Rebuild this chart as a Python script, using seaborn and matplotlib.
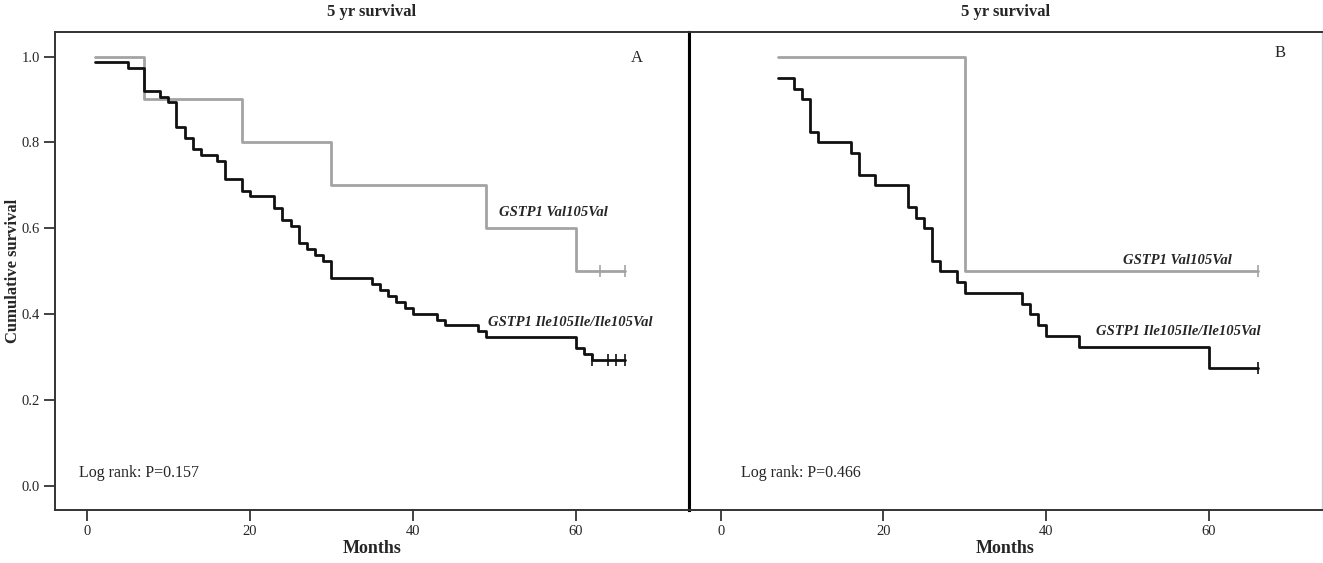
import numpy as np
import pandas as pd
import matplotlib
matplotlib.use("Agg")
import matplotlib.pyplot as plt
import seaborn as sns

# ---------------- data ----------------
# Panel A
a_val_time = [1, 7, 19, 30, 49, 60, 66]
a_val_surv = [1.0, 0.9, 0.8, 0.7, 0.6, 0.5, 0.5]
a_val_cens = [63, 66]

a_ile_time = [1, 5, 7, 9, 10, 11, 12, 13, 14, 16, 17, 19, 20, 23, 24, 25, 26, 27, 28, 29,
              30, 35, 36, 37, 38, 39, 40, 43, 44, 48, 49, 60, 61, 62, 66]
a_ile_surv = [0.987, 0.973, 0.919, 0.906, 0.895, 0.837, 0.811, 0.784, 0.770, 0.756, 0.715,
              0.688, 0.675, 0.647, 0.620, 0.606, 0.567, 0.552, 0.538, 0.525,
              0.484, 0.470, 0.456, 0.442, 0.429, 0.416, 0.401, 0.388, 0.375, 0.361, 0.347,
              0.321, 0.307, 0.293, 0.293]
a_ile_cens = [62, 64, 65, 66]

# Panel B
b_val_time = [7, 30, 66]
b_val_surv = [1.0, 0.5, 0.5]
b_val_cens = [66]

b_ile_time = [7, 9, 10, 11, 12, 16, 17, 19, 23, 24, 25, 26, 27, 29, 30, 37, 38, 39, 40, 44, 60, 66]
b_ile_surv = [0.95, 0.925, 0.90, 0.825, 0.80, 0.775, 0.725, 0.70, 0.65, 0.625, 0.60, 0.525,
              0.50, 0.475, 0.45, 0.425, 0.40, 0.375, 0.35, 0.325, 0.275, 0.275]
b_ile_cens = [66]

groups = ["GSTP1 Val105Val", "GSTP1 Ile105Ile/Ile105Val"]
p_values = ["0.157", "0.466"]
panel_letters = ["A", "B"]
xticks = [0, 20, 40, 60]
yticks = [0.0, 0.2, 0.4, 0.6, 0.8, 1.0]

GRAY = "#a3a3a3"
BLACK = "#111111"
palette = {groups[0]: GRAY, groups[1]: BLACK}

# ---------------- style ----------------
sns.set_style("ticks")
plt.rcParams["font.family"] = ["Liberation Serif", "DejaVu Serif"]

W, H = 1323, 563
fig = plt.figure(figsize=(W / 100, H / 100), dpi=100)
ax1 = fig.add_axes([55 / W, 53 / H, 634 / W, 478 / H])
ax2 = fig.add_axes([689 / W, 53 / H, 633 / W, 478 / H])


def curve_df(times, surv, name):
    return pd.DataFrame({"time": times, "surv": surv, "group": name})


def cens_df(times_c, times, surv, name):
    t = np.asarray(times)
    s = np.asarray(surv)
    idx = np.searchsorted(t, np.asarray(times_c), side="right") - 1
    return pd.DataFrame({"time": times_c, "surv": s[idx], "group": name})


panels = [
    (ax1, (a_val_time, a_val_surv, a_val_cens), (a_ile_time, a_ile_surv, a_ile_cens)),
    (ax2, (b_val_time, b_val_surv, b_val_cens), (b_ile_time, b_ile_surv, b_ile_cens)),
]

for i, (ax, val, ile) in enumerate(panels):
    df = pd.concat([curve_df(val[0], val[1], groups[0]),
                    curve_df(ile[0], ile[1], groups[1])], ignore_index=True)
    cdf = pd.concat([cens_df(val[2], val[0], val[1], groups[0]),
                     cens_df(ile[2], ile[0], ile[1], groups[1])], ignore_index=True)
    for g in groups:
        sub = df[df.group == g]
        sns.lineplot(data=sub, x="time", y="surv", ax=ax, color=palette[g],
                     drawstyle="steps-post", estimator=None, sort=False,
                     linewidth=2.0, legend=False)
        csub = cdf[cdf.group == g]
        sns.scatterplot(data=csub, x="time", y="surv", ax=ax, color=palette[g],
                        marker="|", s=70, linewidth=1.2, legend=False, zorder=5)

    ax.set_xlim(-3.9, 73.9)
    ax.set_ylim(-0.055, 1.057)
    ax.set_xticks(xticks)
    ax.set_xticklabels([str(x) for x in xticks], fontsize=10.5)
    ax.tick_params(axis="both", direction="out", length=8, width=1.2, color="#222222", pad=3)
    ax.set_xlabel("Months", fontsize=13, fontweight="bold")
    ax.xaxis.set_label_coords(0.5, -0.08)
    ax.xaxis.label.set_va("center")
    for sp in ax.spines.values():
        sp.set_visible(True)
        sp.set_color("#333333")
        sp.set_linewidth(1.4)

    ax.text(-0.95 if i == 0 else 2.55, 0.032, "Log rank: P=" + p_values[i],
            fontsize=11.5, ha="left", va="center")
    fig.text((372 if i == 0 else 1006) / W, 1 - 12 / H, "5 yr survival",
             fontsize=12, fontweight="bold", ha="center", va="center")

# Panel A specifics
ax1.set_yticks(yticks)
ax1.set_yticklabels([f"{y:.1f}" for y in yticks], fontsize=10.5)
ax1.set_ylabel("Cumulative survival", fontsize=12, fontweight="bold")
ax1.yaxis.set_label_coords(-0.066, 0.5)
ax1.yaxis.label.set_va("center")
ax1.spines["right"].set_color("#000000")
ax1.spines["right"].set_linewidth(2.2)
ax1.text(67.5, 0.997, panel_letters[0], fontsize=12, ha="center", va="center")
ax1.text(50.6, 0.638, groups[0], fontsize=10.5, fontweight="bold", style="italic",
         ha="left", va="center")
ax1.text(49.2, 0.381, groups[1], fontsize=10.5, fontweight="bold", style="italic",
         ha="left", va="center")

# Panel B specifics
ax2.set_yticks([])
ax2.set_ylabel("")
ax2.spines["left"].set_color("#000000")
ax2.spines["left"].set_linewidth(2.2)
ax2.spines["right"].set_color("#cccccc")
ax2.spines["right"].set_linewidth(1.0)
ax2.text(68.7, 1.008, panel_letters[1], fontsize=12, ha="center", va="center")
ax2.text(62.8, 0.525, groups[0], fontsize=10.5, fontweight="bold", style="italic",
         ha="right", va="center")
ax2.text(66.3, 0.36, groups[1], fontsize=10.5, fontweight="bold", style="italic",
         ha="right", va="center")

fig.savefig("out.png", dpi=100)
